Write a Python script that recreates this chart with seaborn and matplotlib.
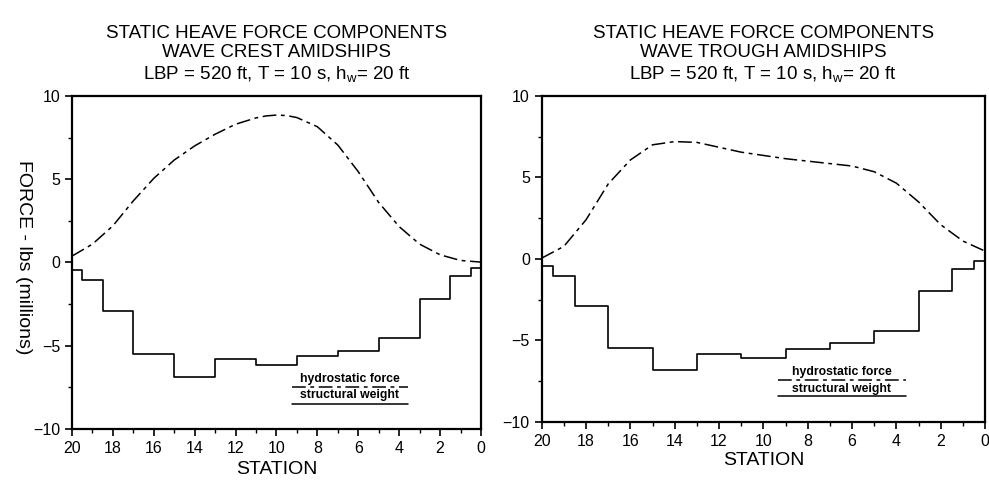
import matplotlib
matplotlib.use("Agg")
import matplotlib.pyplot as plt
import seaborn as sns
import pandas as pd
from matplotlib.ticker import MultipleLocator

sns.set_style("ticks")
plt.rcParams['font.family'] = ['Liberation Sans', 'DejaVu Sans']
plt.rcParams['mathtext.fontset'] = 'custom'
plt.rcParams['mathtext.rm'] = 'Liberation Sans'
plt.rcParams['mathtext.it'] = 'Liberation Sans'
plt.rcParams['text.color'] = 'black'
plt.rcParams['axes.labelcolor'] = 'black'
plt.rcParams['axes.titlecolor'] = 'black'

# ---- data ----
stations = [20, 19, 18, 17, 16, 15, 14, 13, 12, 11, 10.5, 10, 9.5, 9, 8, 7, 6, 5, 4, 3, 2, 1, 0]
hydro_crest = [0.38, 1.1, 2.2, 3.7, 5.05, 6.15, 7.0, 7.7, 8.3, 8.68, 8.8, 8.85, 8.82, 8.7, 8.15, 7.05, 5.45, 3.6, 2.15, 1.1, 0.46, 0.12, 0.02]
hydro_trough = [0.05, 0.77, 2.4, 4.6, 6.07, 7.0, 7.2, 7.15, 6.85, 6.55, 6.45, 6.35, 6.25, 6.15, 6.0, 5.85, 5.7, 5.35, 4.65, 3.5, 2.1, 1.1, 0.48]
weight_edges = [20, 19.5, 18.5, 17, 15, 13, 11, 9, 7, 5, 3, 1.5, 0.5, 0]
weight_crest = [-0.45, -1.05, -2.9, -5.5, -6.85, -5.8, -6.15, -5.6, -5.3, -4.55, -2.2, -0.8, -0.35]
weight_trough = [-0.45, -1.05, -2.9, -5.45, -6.8, -5.8, -6.05, -5.5, -5.15, -4.4, -1.95, -0.6, -0.15]

titles = [
    "STATIC HEAVE FORCE COMPONENTS\nWAVE CREST AMIDSHIPS\nLBP = 520 ft, T = 10 s, h$_w$= 20 ft",
    "STATIC HEAVE FORCE COMPONENTS\nWAVE TROUGH AMIDSHIPS\nLBP = 520 ft, T = 10 s, h$_w$= 20 ft",
]
xticks = [20, 18, 16, 14, 12, 10, 8, 6, 4, 2, 0]
yticks = [-10, -5, 0, 5, 10]

fig = plt.figure(figsize=(9.89, 4.82), dpi=100)
ax1 = fig.add_axes([0.0728, 0.110, 0.4135, 0.691])
ax2 = fig.add_axes([0.5477, 0.1245, 0.4483, 0.6765])

panels = [
    (ax1, hydro_crest, weight_crest, titles[0], (9.24, 3.57, -6.97, -7.45, -7.93, -8.47), 4),
    (ax2, hydro_trough, weight_trough, titles[1], (9.34, 3.57, -6.93, -7.42, -7.98, -8.40), 2),
]

for ax, hydro, weight, title, leg, lpad in panels:
    df_h = pd.DataFrame({"station": stations, "force": hydro})
    sns.lineplot(data=df_h, x="station", y="force", ax=ax, sort=False,
                 color="black", lw=1.1)
    ax.lines[-1].set_dashes([9, 3, 2.5, 3])
    df_w = pd.DataFrame({"station": weight_edges, "force": weight + [weight[-1]]})
    sns.lineplot(data=df_w, x="station", y="force", ax=ax, sort=False,
                 color="black", lw=1.2, drawstyle="steps-post")
    ax.set_xlim(20, 0)
    ax.set_ylim(-10, 10)
    ax.set_xticks(xticks)
    ax.set_yticks(yticks)
    ax.xaxis.set_minor_locator(MultipleLocator(1))
    ax.yaxis.set_minor_locator(MultipleLocator(2.5))
    ax.tick_params(axis="both", which="major", direction="out", length=5, width=1.2,
                   labelsize=11.5, color="black", labelcolor="black")
    ax.tick_params(axis="both", which="minor", direction="out", length=3, width=1.0, color="black")
    for s in ax.spines.values():
        s.set_visible(True)
        s.set_linewidth(1.6)
        s.set_color("black")
    ax.set_xlabel("STATION", fontsize=14, labelpad=lpad)
    ax.set_ylabel("")
    ax.set_title(title, fontsize=13.5, linespacing=1.2, pad=12)
    x0, x1, ty1, ly1, ty2, ly2 = leg
    xm = (x0 + x1) / 2
    ax.text(xm, ty1, "hydrostatic force", ha="center", va="center", fontsize=8.8,
            weight="bold")
    ax.plot([x0, x1], [ly1, ly1], color="black", lw=1.1, dashes=[9, 3, 2.5, 3])
    ax.text(xm, ty2, "structural weight", ha="center", va="center", fontsize=8.8,
            weight="bold")
    ax.plot([x0, x1], [ly2, ly2], color="black", lw=1.1)

fig.text(23 / 989, 1 - 257 / 482, "FORCE - lbs (millions)", fontsize=14, rotation=270,
         ha="center", va="center")

fig.savefig("out.png", dpi=100, facecolor="white")
